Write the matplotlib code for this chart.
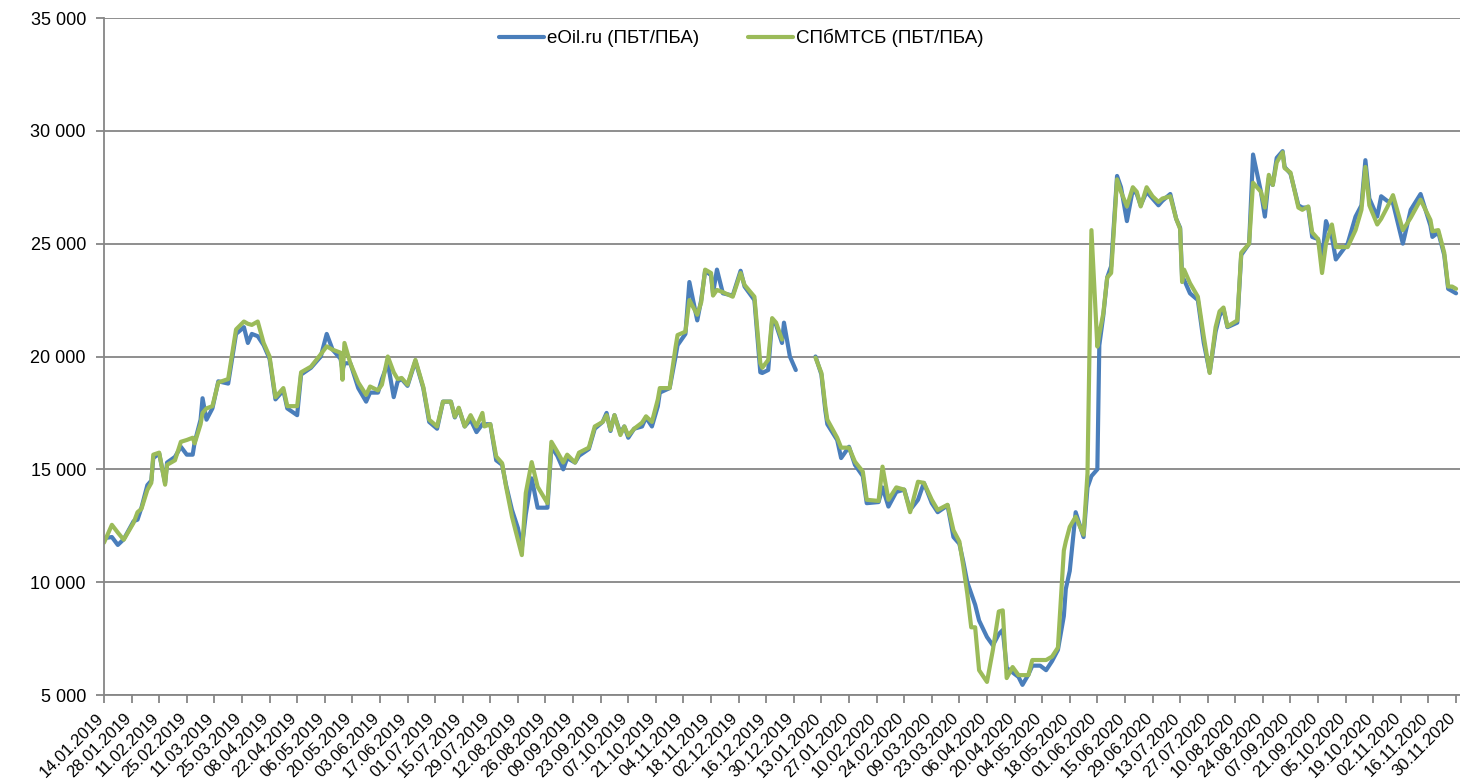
import numpy as np
import pandas as pd
import matplotlib
matplotlib.use("Agg")
import matplotlib.pyplot as plt
from matplotlib.ticker import FuncFormatter

# --- Datos (руб./т) ---
fechas = [
    "14.01.2019", "18.01.2019", "21.01.2019", "24.01.2019", "29.01.2019", "31.01.2019", "02.02.2019", "05.02.2019",
    "07.02.2019", "08.02.2019", "11.02.2019", "14.02.2019", "15.02.2019", "19.02.2019", "22.02.2019", "25.02.2019",
    "28.02.2019", "01.03.2019", "04.03.2019", "05.03.2019", "07.03.2019", "10.03.2019", "13.03.2019", "18.03.2019",
    "22.03.2019", "26.03.2019", "28.03.2019", "30.03.2019", "02.04.2019", "05.04.2019", "08.04.2019", "11.04.2019",
    "15.04.2019", "17.04.2019", "22.04.2019", "24.04.2019", "29.04.2019", "04.05.2019", "07.05.2019", "10.05.2019",
    "14.05.2019", "15.05.2019", "16.05.2019", "19.05.2019", "23.05.2019", "27.05.2019", "29.05.2019", "02.06.2019",
    "04.06.2019", "07.06.2019", "10.06.2019", "12.06.2019", "14.06.2019", "17.06.2019", "21.06.2019", "25.06.2019",
    "28.06.2019", "02.07.2019", "05.07.2019", "09.07.2019", "11.07.2019", "13.07.2019", "16.07.2019", "19.07.2019",
    "22.07.2019", "25.07.2019", "26.07.2019", "29.07.2019", "01.08.2019", "04.08.2019", "06.08.2019", "09.08.2019",
    "12.08.2019", "14.08.2019", "16.08.2019", "19.08.2019", "22.08.2019", "27.08.2019", "29.08.2019", "01.09.2019",
    "04.09.2019", "06.09.2019", "10.09.2019", "12.09.2019", "17.09.2019", "20.09.2019", "24.09.2019", "26.09.2019",
    "28.09.2019", "30.09.2019", "03.10.2019", "05.10.2019", "07.10.2019", "10.10.2019", "14.10.2019", "16.10.2019",
    "19.10.2019", "22.10.2019", "23.10.2019", "28.10.2019", "31.10.2019", "01.11.2019", "05.11.2019", "07.11.2019",
    "11.11.2019", "13.11.2019", "15.11.2019", "18.11.2019", "19.11.2019", "21.11.2019", "24.11.2019", "29.11.2019",
    "03.12.2019", "05.12.2019", "10.12.2019", "13.12.2019", "14.12.2019", "17.12.2019", "19.12.2019", "21.12.2019",
    "24.12.2019", "25.12.2019", "28.12.2019", "31.12.2019", "05.01.2020", "10.01.2020", "13.01.2020", "15.01.2020",
    "16.01.2020", "21.01.2020", "23.01.2020", "27.01.2020", "30.01.2020", "03.02.2020", "05.02.2020", "11.02.2020",
    "13.02.2020", "16.02.2020", "20.02.2020", "24.02.2020", "27.02.2020", "02.03.2020", "05.03.2020", "09.03.2020",
    "12.03.2020", "17.03.2020", "20.03.2020", "23.03.2020", "25.03.2020", "27.03.2020", "29.03.2020", "31.03.2020",
    "02.04.2020", "06.04.2020", "09.04.2020", "12.04.2020", "14.04.2020", "16.04.2020", "19.04.2020", "22.04.2020",
    "24.04.2020", "27.04.2020", "29.04.2020", "03.05.2020", "06.05.2020", "09.05.2020", "12.05.2020", "15.05.2020",
    "16.05.2020", "18.05.2020", "21.05.2020", "25.05.2020", "27.05.2020", "29.05.2020", "01.06.2020", "02.06.2020",
    "04.06.2020", "06.06.2020", "08.06.2020", "11.06.2020", "13.06.2020", "16.06.2020", "19.06.2020", "21.06.2020",
    "23.06.2020", "26.06.2020", "29.06.2020", "02.07.2020", "04.07.2020", "08.07.2020", "11.07.2020", "13.07.2020",
    "14.07.2020", "15.07.2020", "18.07.2020", "22.07.2020", "25.07.2020", "28.07.2020", "31.07.2020", "02.08.2020",
    "04.08.2020", "06.08.2020", "11.08.2020", "13.08.2020", "17.08.2020", "19.08.2020", "23.08.2020", "25.08.2020",
    "27.08.2020", "29.08.2020", "31.08.2020", "03.09.2020", "04.09.2020", "07.09.2020", "11.09.2020", "13.09.2020",
    "16.09.2020", "18.09.2020", "21.09.2020", "23.09.2020", "25.09.2020", "28.09.2020", "30.09.2020", "06.10.2020",
    "10.10.2020", "13.10.2020", "15.10.2020", "17.10.2020", "21.10.2020", "23.10.2020", "26.10.2020", "29.10.2020",
    "03.11.2020", "07.11.2020", "12.11.2020", "17.11.2020", "18.11.2020", "21.11.2020", "24.11.2020", "26.11.2020",
    "28.11.2020", "30.11.2020",
]

eoil = [
    11950, 12000, 11650, 11900, 12700, 12770, 13300, 14300,
    14500, 15500, 15700, 14400, 15300, 15550, 16000, 15650,
    15650, 16200, 17200, 18150, 17200, 17700, 18900, 18800,
    21000, 21300, 20600, 21000, 20900, 20500, 19900, 18100,
    18500, 17700, 17400, 19200, 19500, 20000, 21000, 20300,
    19900, 19400, 19700, 19700, 18600, 18000, 18400, 18400,
    19000, 19700, 18200, 18900, 19000, 18700, 19800, 18600,
    17100, 16800, 18000, 18000, 17300, 17700, 16900, 17200,
    16650, 17000, 17000, 17000, 15400, 15200, 14300, 13200,
    12400, 11500, 13000, 14600, 13300, 13300, 16000, 15600,
    15000, 15500, 15300, 15600, 15900, 16800, 17100, 17500,
    16700, 17400, 16600, 16900, 16400, 16800, 16900, 17300,
    16900, 17800, 18400, 18600, 20000, 20500, 21000, 23300,
    21600, 22500, 23800, 23600, 22800, 23850, 22800, 22700,
    23800, 23100, 22500, 19300, 19270, 19400, 21600, 21400,
    20600, 21500, 20000, 19400, None, 20000, 19200, 17600,
    17000, 16300, 15500, 16000, 15200, 14700, 13500, 13550,
    14200, 13350, 14000, 14100, 13200, 13650, 14400, 13500,
    13100, 13400, 12000, 11700, 10900, 10000, 9500, 9000,
    8300, 7570, 7200, 7700, 7880, 6200, 6000, 5800,
    5450, 5900, 6300, 6300, 6100, 6500, 7000, 8500,
    9700, 10500, 13100, 12000, 14200, 14700, 15000, 20500,
    21800, 23500, 24000, 28000, 27500, 26000, 27400, 27200,
    26700, 27300, 27000, 26700, 26900, 27200, 26100, 25700,
    23500, 23400, 22800, 22500, 20600, 19300, 21100, 21800,
    22100, 21300, 21500, 24500, 25000, 28950, 27300, 26200,
    27900, 27600, 28800, 29100, 28400, 28100, 26700, 26600,
    26600, 25300, 25200, 24300, 26000, 25300, 24300, 25000,
    26200, 26700, 28700, 27000, 26200, 27100, 26900, 26800,
    25000, 26500, 27200, 25800, 25300, 25500, 24500, 23000,
    22900, 22800,
]

spbmtsb = [
    11750, 12540, 12200, 11880, 12630, 13100, 13250, 14090,
    14400, 15650, 15740, 14320, 15200, 15400, 16220, 16300,
    16400, 16150, 17000, 17500, 17700, 17800, 18850, 19000,
    21200, 21550, 21450, 21400, 21550, 20600, 20000, 18200,
    18600, 17800, 17800, 19300, 19550, 20100, 20450, 20300,
    20170, 18970, 20600, 19700, 18850, 18300, 18670, 18500,
    18750, 20000, 19300, 19000, 19050, 18750, 19850, 18650,
    17200, 16900, 18000, 18000, 17330, 17730, 16900, 17400,
    16900, 17500, 16900, 17000, 15570, 15270, 14230, 12900,
    11870, 11200, 13950, 15320, 14230, 13500, 16220, 15780,
    15300, 15650, 15300, 15740, 15960, 16900, 17100, 17400,
    16750, 17400, 16520, 16900, 16500, 16800, 17070, 17350,
    17100, 18100, 18600, 18600, 20420, 20950, 21100, 22500,
    21850, 22400, 23850, 23700, 22700, 22950, 22850, 22650,
    23700, 23170, 22650, 19700, 19500, 19850, 21700, 21500,
    20750, None, None, None, None, 19950, 19270, 17780,
    17200, 16400, 15960, 15960, 15340, 14900, 13650, 13600,
    15120, 13650, 14200, 14100, 13100, 14450, 14400, 13650,
    13200, 13430, 12300, 11800, 10700, 9500, 8000, 8000,
    6100, 5580, 7000, 8700, 8750, 5750, 6240, 5880,
    5880, 5880, 6550, 6550, 6550, 6700, 7100, 11400,
    11800, 12450, 12900, 12100, 14830, 25600, 20440, 21000,
    21900, 23500, 23700, 27850, 27300, 26650, 27500, 27300,
    26650, 27500, 27100, 26850, 27000, 27100, 26100, 25650,
    23300, 23850, 23250, 22650, 20880, 19270, 21300, 22000,
    22170, 21330, 21600, 24600, 25000, 27700, 27300, 26600,
    28050, 27600, 28600, 29050, 28350, 28150, 26600, 26500,
    26650, 25500, 25200, 23700, 25000, 25850, 24850, 24850,
    25600, 26500, 28400, 26700, 25850, 26100, 26600, 27150,
    25600, 26150, 26950, 26050, 25550, 25600, 24600, 23100,
    23100, 23000,
]

serie_eoil = "eOil.ru (ПБТ/ПБА)"
serie_spb = "СПбМТСБ (ПБТ/ПБА)"

# --- Preparación ---
df = pd.DataFrame({
    "fecha": pd.to_datetime(fechas, format="%d.%m.%Y"),
    "eoil": pd.to_numeric(pd.Series(eoil, dtype="object"), errors="coerce"),
    "spb": pd.to_numeric(pd.Series(spbmtsb, dtype="object"), errors="coerce"),
})

plt.rcParams["font.family"] = ["Liberation Sans", "DejaVu Sans"]

gris = "#868686"
azul = "#4A7EBB"
verde = "#9BBB59"

fig = plt.figure(figsize=(14.6, 7.84), dpi=100)
ax = fig.add_axes([104 / 1460, 1 - 695 / 784, 1 - 104 / 1460, (695 - 18) / 784])

ax.plot(df["fecha"], df["eoil"], color=azul, linewidth=3.0, label=serie_eoil,
        solid_joinstyle="round", solid_capstyle="round")
ax.plot(df["fecha"], df["spb"], color=verde, linewidth=3.0, label=serie_spb,
        solid_joinstyle="round", solid_capstyle="round")

# Ejes
inicio = pd.Timestamp("2019-01-14")
ax.set_xlim(inicio, inicio + pd.Timedelta(days=688))
ax.set_ylim(5000, 35000)
ax.set_yticks(np.arange(5000, 35001, 5000))
ax.yaxis.set_major_formatter(FuncFormatter(lambda v, p: f"{int(v):,}".replace(",", " ")))

# Marcas cada dos semanas; las etiquetas se ponen a mano para controlar el ángulo
marcas = pd.date_range(inicio, "2020-11-30", freq="14D")
ax.set_xticks(marcas)
ax.set_xticklabels([])
for m in marcas:
    ax.annotate(m.strftime("%d.%m.%Y"), xy=(m, 0), xycoords=("data", "axes fraction"),
                xytext=(-3, -21), textcoords="offset pixels", rotation=45,
                ha="right", va="center", rotation_mode="anchor", fontsize=12,
                annotation_clip=False)

ax.grid(axis="y", color=gris, linewidth=1.3)
ax.set_axisbelow(True)
for lado in ["top", "right"]:
    ax.spines[lado].set_visible(False)
for lado in ["left", "bottom"]:
    ax.spines[lado].set_color(gris)
    ax.spines[lado].set_linewidth(1.3)
ax.tick_params(axis="both", direction="out", length=6, width=1.3, color=gris,
               labelcolor="black")
ax.tick_params(axis="y", labelsize=13, pad=7)

ax.legend(loc="center", bbox_to_anchor=(0.47, 0.97), ncol=2, frameon=False,
          fontsize=13.5, handlelength=2.4, handletextpad=0.15, columnspacing=2.6)

fig.savefig("out.png", dpi=100)
